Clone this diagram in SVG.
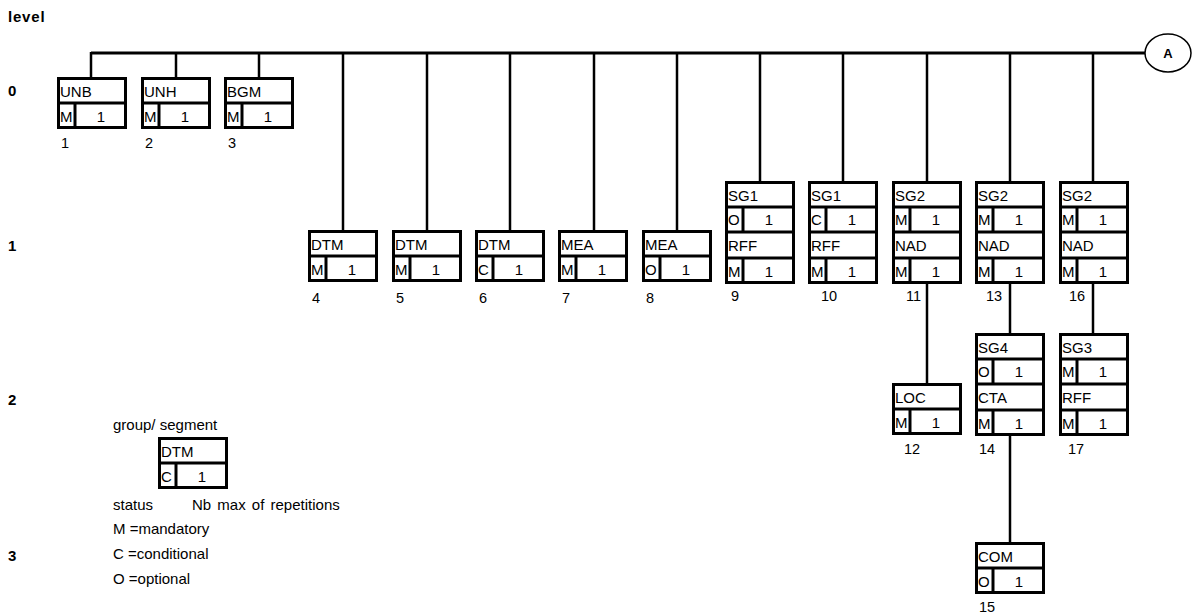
<svg xmlns="http://www.w3.org/2000/svg" width="1194" height="615" viewBox="0 0 1194 615">
<style>
text{font-family:"Liberation Sans",Arial,sans-serif;font-size:15px;fill:#000}
.lv{font-weight:bold;font-size:15px}
.no{font-size:14.5px}
.c{text-anchor:middle}
.b{fill:#fff;stroke:#000;stroke-width:3}
.d{stroke:#000;stroke-width:3;fill:none}
.cn line{stroke:#000;stroke-width:2.5}
</style>
<defs>
<g id="single">
<rect class="b" x="1.5" y="1.5" width="67" height="49"/>
<line class="d" x1="0" y1="26" x2="70" y2="26"/>
<line class="d" x1="18" y1="26" x2="18" y2="52"/>
</g>
<g id="double">
<rect class="b" x="1.5" y="1.5" width="67" height="100"/>
<line class="d" x1="0" y1="26" x2="70" y2="26"/>
<line class="d" x1="0" y1="51" x2="70" y2="51"/>
<line class="d" x1="0" y1="77" x2="70" y2="77"/>
<line class="d" x1="18" y1="26" x2="18" y2="51"/>
<line class="d" x1="18" y1="77" x2="18" y2="103"/>
</g>
</defs>
<text class="lv" x="8" y="22" style="letter-spacing:0.8px">level</text>
<text class="lv" x="8" y="96">0</text>
<text class="lv" x="8" y="251">1</text>
<text class="lv" x="8" y="405">2</text>
<text class="lv" x="8" y="561">3</text>
<g id="connectors" class="cn">
<line x1="91" y1="53" x2="1145" y2="53" style="stroke-width:3"/>
<line x1="91" y1="52" x2="91" y2="78"/>
<line x1="176" y1="52" x2="176" y2="78"/>
<line x1="259" y1="52" x2="259" y2="78"/>
<line x1="343" y1="52" x2="343" y2="231"/>
<line x1="427" y1="52" x2="427" y2="231"/>
<line x1="510" y1="52" x2="510" y2="231"/>
<line x1="594" y1="52" x2="594" y2="231"/>
<line x1="677" y1="52" x2="677" y2="231"/>
<line x1="760" y1="52" x2="760" y2="182"/>
<line x1="843" y1="52" x2="843" y2="182"/>
<line x1="927" y1="52" x2="927" y2="182"/>
<line x1="1010" y1="52" x2="1010" y2="182"/>
<line x1="1093" y1="52" x2="1093" y2="182"/>
<line x1="927" y1="283" x2="927" y2="384"/>
<line x1="1010" y1="283" x2="1010" y2="334"/>
<line x1="1093" y1="283" x2="1093" y2="334"/>
<line x1="1010" y1="435" x2="1010" y2="543"/>
</g>
<g id="nodeA">
<ellipse cx="1168" cy="53" rx="23" ry="19" fill="#fff" stroke="#000" stroke-width="1.5"/>
<text class="lv c" x="1168" y="58" style="font-size:13px">A</text>
</g>
<g id="n1" transform="translate(57,77)"><use href="#single"/><text x="3" y="20">UNB</text><text x="3" y="45">M</text><text class="c" x="44" y="45">1</text><text class="no" x="4" y="71">1</text></g>
<g id="n2" transform="translate(141,77)"><use href="#single"/><text x="3" y="20">UNH</text><text x="3" y="45">M</text><text class="c" x="44" y="45">1</text><text class="no" x="4" y="71">2</text></g>
<g id="n3" transform="translate(224,77)"><use href="#single"/><text x="3" y="20">BGM</text><text x="3" y="45">M</text><text class="c" x="44" y="45">1</text><text class="no" x="4" y="71">3</text></g>
<g id="n4" transform="translate(308,230)"><use href="#single"/><text x="3" y="20">DTM</text><text x="3" y="45">M</text><text class="c" x="44" y="45">1</text><text class="no" x="4" y="73">4</text></g>
<g id="n5" transform="translate(392,230)"><use href="#single"/><text x="3" y="20">DTM</text><text x="3" y="45">M</text><text class="c" x="44" y="45">1</text><text class="no" x="4" y="73">5</text></g>
<g id="n6" transform="translate(475,230)"><use href="#single"/><text x="3" y="20">DTM</text><text x="3" y="45">C</text><text class="c" x="44" y="45">1</text><text class="no" x="4" y="73">6</text></g>
<g id="n7" transform="translate(558,230)"><use href="#single"/><text x="3" y="20">MEA</text><text x="3" y="45">M</text><text class="c" x="44" y="45">1</text><text class="no" x="4" y="73">7</text></g>
<g id="n8" transform="translate(642,230)"><use href="#single"/><text x="3" y="20">MEA</text><text x="3" y="45">O</text><text class="c" x="44" y="45">1</text><text class="no" x="4" y="73">8</text></g>
<g id="n9" transform="translate(725,181)"><use href="#double"/><text x="3" y="20">SG1</text><text x="3" y="44">O</text><text class="c" x="44" y="44">1</text><text x="3" y="70">RFF</text><text x="3" y="96">M</text><text class="c" x="44" y="96">1</text><text class="no" x="6" y="120">9</text></g>
<g id="n10" transform="translate(808,181)"><use href="#double"/><text x="3" y="20">SG1</text><text x="3" y="44">C</text><text class="c" x="44" y="44">1</text><text x="3" y="70">RFF</text><text x="3" y="96">M</text><text class="c" x="44" y="96">1</text><text class="no" x="13" y="120">10</text></g>
<g id="n11" transform="translate(892,181)"><use href="#double"/><text x="3" y="20">SG2</text><text x="3" y="44">M</text><text class="c" x="44" y="44">1</text><text x="3" y="70">NAD</text><text x="3" y="96">M</text><text class="c" x="44" y="96">1</text><text class="no" x="14" y="120">11</text></g>
<g id="n13" transform="translate(975,181)"><use href="#double"/><text x="3" y="20">SG2</text><text x="3" y="44">M</text><text class="c" x="44" y="44">1</text><text x="3" y="70">NAD</text><text x="3" y="96">M</text><text class="c" x="44" y="96">1</text><text class="no" x="11" y="120">13</text></g>
<g id="n16" transform="translate(1059,181)"><use href="#double"/><text x="3" y="20">SG2</text><text x="3" y="44">M</text><text class="c" x="44" y="44">1</text><text x="3" y="70">NAD</text><text x="3" y="96">M</text><text class="c" x="44" y="96">1</text><text class="no" x="10" y="120">16</text></g>
<g id="n12" transform="translate(892,383)"><use href="#single"/><text x="3" y="20">LOC</text><text x="3" y="45">M</text><text class="c" x="44" y="45">1</text><text class="no" x="12" y="71">12</text></g>
<g id="n14" transform="translate(975,333)"><use href="#double"/><text x="3" y="20">SG4</text><text x="3" y="44">O</text><text class="c" x="44" y="44">1</text><text x="3" y="70">CTA</text><text x="3" y="96">M</text><text class="c" x="44" y="96">1</text><text class="no" x="4" y="121">14</text></g>
<g id="n17" transform="translate(1059,333)"><use href="#double"/><text x="3" y="20">SG3</text><text x="3" y="44">M</text><text class="c" x="44" y="44">1</text><text x="3" y="70">RFF</text><text x="3" y="96">M</text><text class="c" x="44" y="96">1</text><text class="no" x="9" y="121">17</text></g>
<g id="n15" transform="translate(975,542)"><use href="#single"/><text x="3" y="20">COM</text><text x="3" y="45">O</text><text class="c" x="44" y="45">1</text><text class="no" x="4" y="70">15</text></g>
<g id="legend">
<text x="113" y="430">group/ segment</text>
<g transform="translate(158,437)"><use href="#single"/><text x="3" y="20">DTM</text><text x="3" y="45">C</text><text class="c" x="44" y="45">1</text></g>
<text x="113" y="510">status</text>
<text x="192" y="510" style="word-spacing:2px">Nb max of repetitions</text>
<text x="113" y="534">M =mandatory</text>
<text x="113" y="559">C =conditional</text>
<text x="113" y="584">O =optional</text>
</g>
</svg>
